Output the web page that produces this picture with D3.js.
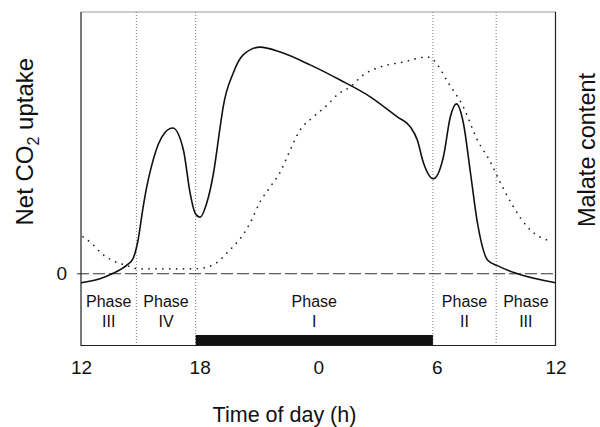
<!DOCTYPE html>
<html>
<head>
<meta charset="utf-8">
<script src="https://cdn.jsdelivr.net/npm/d3@7"></script>
<style>
    body { margin: 0; background: #fff; }
    text { font-family: "Liberation Sans", Arial, sans-serif; fill: #111; }
</style>
</head>
<body>
<div id="chart-container"></div>
<script>
// time of day in hours, continuing past midnight (24 = 0 h, 36 = 12 h next day)
const tickHours = [12, 18, 24, 30, 36];
const tickLabels = ['12', '18', '0', '6', '12'];
const phaseBounds = [12, 14.8, 17.8, 29.8, 33.0, 36];
const phaseNames = ['III', 'IV', 'I', 'II', 'III'];
const darkPeriod = [17.8, 29.8];

// net CO2 uptake (arbitrary units)
const co2Hours = [12.0, 12.96, 13.57, 14.33, 14.63, 14.89, 15.12, 15.32, 15.58, 15.91, 16.25, 16.64,
    17.18, 17.52, 17.77, 18.03, 18.36, 18.7, 19.04, 19.19, 19.7, 20.2, 21.06, 22.08, 23.59, 25.11,
    26.63, 28.0, 28.66, 29.01, 29.32, 29.82, 30.33, 30.68, 30.99, 31.34, 31.7, 32.05, 32.56, 33.06,
    34.08, 36.0];
const co2Values = [-0.34, -0.19, 0, 0.34, 0.58, 1.3, 2.44, 3.3, 4.15, 4.95, 5.4, 5.57,
    4.73, 3.08, 2.32, 2.16, 2.7, 3.84, 5.62, 6.37, 7.67, 8.36, 8.66, 8.47, 7.98, 7.4,
    6.76, 5.99, 5.61, 5.11, 4.24, 3.63, 4.47, 5.99, 6.49, 5.76, 3.85, 1.95, 0.53, 0.31,
    0, -0.34];

// malate content (arbitrary units)
const malateHours = [12.1, 12.56, 13.06, 13.62, 14.33, 14.89, 16.15, 17.77, 18.68, 19.54, 20.05,
    20.56, 21.06, 21.57, 22.08, 22.43, 23.09, 23.75, 24.46, 25.01, 25.62, 26.28, 27.14, 28.3,
    29.52, 29.82, 30.58, 31.34, 32.05, 32.71, 33.22, 33.87, 34.58, 35.85];
const malateValues = [1.41, 1.15, 0.76, 0.5, 0.31, 0.19, 0.19, 0.19, 0.34, 0.92, 1.34,
    1.95, 2.75, 3.32, 3.89, 4.47, 5.5, 5.99, 6.45, 6.87, 7.14, 7.6, 7.9, 8.09,
    8.28, 8.17, 7.29, 6.37, 5.11, 4.27, 3.47, 2.56, 1.79, 1.22];

const svgWidth = 600;
const svgHeight = 427;
const margin = {top: 12, right: 44.5, bottom: 81.5, left: 81};
const width = svgWidth - margin.left - margin.right;
const height = svgHeight - margin.top - margin.bottom;

const svg = d3.select('#chart-container')
    .append('svg')
    .attr('width', svgWidth)
    .attr('height', svgHeight);

const g = svg.append('g')
    .attr('transform', `translate(${margin.left},${margin.top})`);

const x = d3.scaleLinear().domain([12, 36]).range([0, width]);
const y = d3.scaleLinear().domain([-2.74, 10]).range([height, 0]);

// phase boundaries
g.selectAll('.phase-line')
    .data(phaseBounds.slice(1, -1))
    .enter()
    .append('line')
    .attr('class', 'phase-line')
    .attr('x1', d => x(d))
    .attr('x2', d => x(d))
    .attr('y1', 0)
    .attr('y2', height)
    .attr('stroke', '#777')
    .attr('stroke-width', 1)
    .attr('stroke-dasharray', '1,2');

// zero line
g.append('line')
    .attr('x1', -4)
    .attr('x2', width)
    .attr('y1', y(0))
    .attr('y2', y(0))
    .attr('stroke', '#333')
    .attr('stroke-width', 1.2)
    .attr('stroke-dasharray', '12,4');

// dark period bar
g.append('rect')
    .attr('x', x(darkPeriod[0]))
    .attr('y', height - 10.5)
    .attr('width', x(darkPeriod[1]) - x(darkPeriod[0]))
    .attr('height', 10.5)
    .attr('fill', '#111');

const line = d3.line()
    .x(d => x(d[0]))
    .y(d => y(d[1]))
    .curve(d3.curveMonotoneX);

g.append('path')
    .datum(malateHours.map((h, i) => [h, malateValues[i]]))
    .attr('d', line)
    .attr('fill', 'none')
    .attr('stroke', '#222')
    .attr('stroke-width', 1.7)
    .attr('stroke-linecap', 'round')
    .attr('stroke-dasharray', '0.1,6.8');

g.append('path')
    .datum(co2Hours.map((h, i) => [h, co2Values[i]]))
    .attr('d', line)
    .attr('fill', 'none')
    .attr('stroke', '#111')
    .attr('stroke-width', 1.6);

// phase labels
const phaseGroups = g.selectAll('.phase-label')
    .data(phaseNames)
    .enter()
    .append('g')
    .attr('class', 'phase-label')
    .attr('transform', (d, i) => `translate(${(x(phaseBounds[i]) + x(phaseBounds[i + 1])) / 2},0)`);
phaseGroups.append('text')
    .attr('y', 306.7 - margin.top)
    .attr('text-anchor', 'middle')
    .style('font-size', '16px')
    .text('Phase');
phaseGroups.append('text')
    .attr('y', 326.7 - margin.top)
    .attr('text-anchor', 'middle')
    .style('font-size', '16px')
    .text(d => d);

// frame
g.append('line')
    .attr('x1', 0).attr('x2', width)
    .attr('y1', 0).attr('y2', 0)
    .attr('stroke', '#999')
    .attr('stroke-width', 1);
g.append('path')
    .attr('d', `M0,0V${height}H${width}V0`)
    .attr('fill', 'none')
    .attr('stroke', '#222')
    .attr('stroke-width', 1.2);

// axes
const xAxis = g.append('g')
    .attr('transform', `translate(0,${height})`)
    .call(d3.axisBottom(x)
        .tickValues(tickHours)
        .tickFormat((d, i) => tickLabels[i])
        .tickSize(0)
        .tickPadding(15));
xAxis.select('.domain').remove();
xAxis.selectAll('text')
    .style('font-size', '19px')
    .style('font-family', '"Liberation Sans", Arial, sans-serif')
    .attr('fill', '#111');

const yAxis = g.append('g')
    .call(d3.axisLeft(y)
        .tickValues([0])
        .tickSize(0)
        .tickPadding(14));
yAxis.select('.domain').remove();
yAxis.selectAll('text')
    .style('font-size', '19px')
    .style('font-family', '"Liberation Sans", Arial, sans-serif')
    .attr('fill', '#111');

// titles
svg.append('text')
    .attr('x', 284.5)
    .attr('y', 421.5)
    .attr('text-anchor', 'middle')
    .style('font-size', '21.5px')
    .text('Time of day (h)');

const leftTitle = svg.append('text')
    .attr('transform', 'translate(33,141.7) rotate(-90)')
    .attr('text-anchor', 'middle')
    .style('font-size', '24px');
leftTitle.append('tspan').text('Net CO');
leftTitle.append('tspan').attr('dy', 6).style('font-size', '16px').text('2');
leftTitle.append('tspan').attr('dy', -6).text(' uptake');

svg.append('text')
    .attr('transform', 'translate(595,150) rotate(-90)')
    .attr('text-anchor', 'middle')
    .style('font-size', '23.5px')
    .text('Malate content');
</script>
</body>
</html>
